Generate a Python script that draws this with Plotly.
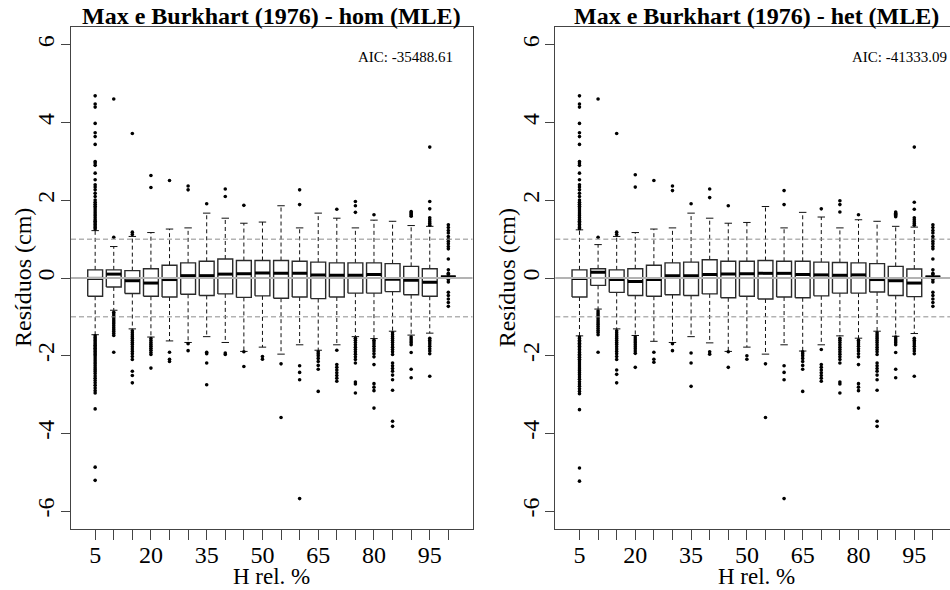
import plotly.graph_objects as go

W, H = 950, 590
FONT = "Liberation Serif, Times New Roman, Times, serif"

categories = [5, 10, 15, 20, 25, 30, 35, 40, 45, 50, 55, 60, 65, 70, 75, 80, 85, 90, 95, 100]
tick_labels = ["5", "", "", "20", "", "", "35", "", "", "50", "", "", "65", "", "", "80", "", "", "95", ""]
y_ticks = [-6, -4, -2, 0, 2, 4, 6]

titles = ["Max e Burkhart (1976) - hom (MLE)", "Max e Burkhart (1976) - het (MLE)"]
aic_labels = ["AIC: -35488.61", "AIC: -41333.09"]
x_title = "H rel. %"
y_title = "Resíduos (cm)"

# ---- hom (MLE) ----
hom_q1 = [-0.47, -0.23, -0.40, -0.47, -0.49, -0.42, -0.45, -0.41, -0.50, -0.46,
          -0.52, -0.49, -0.53, -0.49, -0.39, -0.39, -0.35, -0.43, -0.47, 0.03]
hom_med = [-0.01, 0.10, -0.07, -0.13, -0.04, 0.06, 0.06, 0.10, 0.11, 0.13,
           0.12, 0.12, 0.08, 0.07, 0.07, 0.09, -0.03, -0.06, -0.11, 0.03]
hom_q3 = [0.21, 0.21, 0.19, 0.24, 0.33, 0.39, 0.43, 0.49, 0.45, 0.45,
          0.45, 0.43, 0.41, 0.39, 0.39, 0.39, 0.37, 0.30, 0.24, 0.03]
hom_lo = [-1.46, -0.83, -1.31, -1.52, -1.62, -1.66, -1.51, -1.66, -1.89, -1.78,
          -1.96, -1.72, -1.86, -1.72, -1.51, -1.56, -1.37, -1.47, -1.42, 0.03]
hom_hi = [1.22, 0.81, 1.07, 1.17, 1.26, 1.29, 1.67, 1.54, 1.41, 1.44,
          1.86, 1.29, 1.67, 1.54, 1.29, 1.49, 1.46, 1.35, 1.33, 0.03]
hom_out = [
    [4.69, 4.48, 4.40, 3.98, 3.74, 3.64, 3.44, 3.00, 2.96, 2.90, 2.70, 2.53, 2.40, 2.34, 2.27,
     2.18, 2.10, 2.01, 1.95, 1.90, 1.85, 1.80, 1.75, 1.70, 1.65, 1.60, 1.55, 1.50, 1.46, 1.42,
     1.38, 1.34, 1.30, 1.26,
     -1.49, -1.53, -1.57, -1.61, -1.65, -1.69, -1.73, -1.77, -1.81, -1.85, -1.89, -1.93, -1.97,
     -2.01, -2.06, -2.11, -2.16, -2.21, -2.26, -2.31, -2.36, -2.41, -2.46, -2.52, -2.58, -2.64,
     -2.70, -2.76, -2.83, -2.90, -2.96, -3.37, -4.87, -5.21],
    [4.61, 1.05, -0.88, -0.93, -0.98, -1.03, -1.08, -1.13, -1.18, -1.23, -1.28, -1.33, -1.38,
     -1.43, -1.48, -1.91],
    [3.72, 1.18, 1.12, -1.36, -1.41, -1.46, -1.51, -1.56, -1.61, -1.66, -1.71, -1.77, -1.83,
     -1.89, -1.95, -2.02, -2.10, -2.40, -2.51, -2.70],
    [2.64, 2.33, -1.56, -1.61, -1.66, -1.71, -1.76, -1.81, -1.86, -1.92, -1.97, -2.32],
    [2.51, -1.91, -2.09, -2.15],
    [2.37, 2.27, -1.69, -1.87],
    [1.91, -1.91, -1.95, -2.19, -2.75],
    [2.29, 2.10, -1.93, -1.97],
    [1.87, -1.90, -2.28],
    [-2.02, -2.09],
    [-2.21, -3.59],
    [2.27, 1.89, -2.26, -2.43, -2.62, -5.68],
    [-1.90, -1.95, -2.00, -2.07, -2.15, -2.25, -2.35, -2.92],
    [1.77, -1.86, -2.23, -2.30, -2.37, -2.44, -2.51, -2.58, -2.66],
    [1.97, 1.86, 1.69, -1.55, -1.60, -1.66, -1.72, -1.78, -1.84, -1.90, -1.96, -2.03, -2.10,
     -2.19, -2.68, -2.73, -2.96],
    [1.63, -1.60, -1.65, -1.70, -1.76, -1.82, -1.88, -1.95, -2.03, -2.23, -2.72, -2.81, -2.90, -3.35],
    [-1.41, -1.46, -1.51, -1.56, -1.61, -1.66, -1.72, -1.78, -1.84, -1.90, -1.97, -2.19, -2.26,
     -2.33, -2.40, -2.50, -2.62, -2.89, -3.69, -3.82],
    [1.71, 1.68, 1.65, 1.62, 1.59, -1.52, -1.57, -1.62, -1.67, -1.72, -1.92, -2.35, -2.57],
    [3.37, 1.97, 1.78, 1.55, 1.50, 1.45, 1.40, 1.36, -1.55, -1.60, -1.65, -1.70, -1.76, -1.82,
     -1.88, -1.95, -2.53],
    [1.37, 1.30, 1.22, 1.16, 1.07, 1.00, 0.94, 0.88, 0.81, 0.75, 0.49, 0.21, 0.12, 0.09, -0.04,
     -0.10, -0.37, -0.45, -0.54, -0.63, -0.73],
]

# ---- het (MLE) ----
het_q1 = [-0.49, -0.19, -0.37, -0.45, -0.47, -0.43, -0.45, -0.41, -0.51, -0.47,
          -0.54, -0.49, -0.51, -0.46, -0.39, -0.39, -0.36, -0.45, -0.48, 0.03]
het_med = [-0.01, 0.15, -0.04, -0.09, -0.04, 0.06, 0.06, 0.09, 0.10, 0.11,
           0.12, 0.12, 0.09, 0.08, 0.07, 0.08, -0.04, -0.07, -0.13, 0.03]
het_q3 = [0.21, 0.24, 0.21, 0.24, 0.33, 0.39, 0.41, 0.47, 0.43, 0.43,
          0.45, 0.43, 0.43, 0.41, 0.40, 0.39, 0.37, 0.30, 0.23, 0.03]
het_lo = [-1.49, -0.80, -1.31, -1.48, -1.63, -1.66, -1.51, -1.67, -1.89, -1.78,
          -1.96, -1.72, -1.88, -1.72, -1.49, -1.55, -1.37, -1.50, -1.43, 0.03]
het_hi = [1.24, 0.86, 1.07, 1.17, 1.26, 1.29, 1.67, 1.54, 1.41, 1.43,
          1.84, 1.29, 1.69, 1.57, 1.29, 1.50, 1.46, 1.33, 1.31, 0.03]
het_out = [
    [4.69, 4.48, 4.40, 3.98, 3.74, 3.64, 3.44, 3.00, 2.96, 2.90, 2.70, 2.53, 2.40, 2.34, 2.27,
     2.18, 2.10, 2.01, 1.95, 1.90, 1.85, 1.80, 1.75, 1.70, 1.65, 1.60, 1.55, 1.50, 1.46, 1.42,
     1.38, 1.34, 1.30, 1.27,
     -1.52, -1.56, -1.60, -1.64, -1.68, -1.72, -1.76, -1.80, -1.84, -1.88, -1.92, -1.96, -2.00,
     -2.04, -2.09, -2.14, -2.19, -2.24, -2.29, -2.34, -2.39, -2.44, -2.49, -2.55, -2.61, -2.67,
     -2.73, -2.79, -2.85, -2.92, -2.98, -3.39, -4.89, -5.23],
    [4.61, 1.05, -0.85, -0.90, -0.95, -1.00, -1.05, -1.10, -1.15, -1.20, -1.25, -1.30, -1.35,
     -1.40, -1.46, -1.91],
    [3.72, 1.18, 1.12, -1.36, -1.41, -1.46, -1.51, -1.56, -1.61, -1.66, -1.71, -1.77, -1.83,
     -1.89, -1.95, -2.02, -2.10, -2.37, -2.48, -2.70],
    [2.66, 2.34, -1.52, -1.57, -1.62, -1.67, -1.72, -1.77, -1.82, -1.88, -1.94, -2.30],
    [2.51, -1.91, -2.09, -2.17],
    [2.37, 2.25, -1.69, -1.87],
    [1.91, -1.93, -2.19, -2.79],
    [2.29, 2.07, -1.90, -1.96],
    [1.86, -1.90, -2.30],
    [-2.00, -2.09],
    [-2.21, -3.59],
    [2.25, 1.89, -2.26, -2.43, -2.62, -5.68],
    [-1.90, -1.95, -2.00, -2.07, -2.15, -2.25, -2.35, -2.92],
    [1.78, -1.84, -2.23, -2.30, -2.37, -2.44, -2.51, -2.58, -2.66],
    [1.99, 1.89, 1.70, -1.55, -1.60, -1.66, -1.72, -1.78, -1.84, -1.90, -1.96, -2.03, -2.10,
     -2.19, -2.68, -2.73, -2.96],
    [1.63, -1.60, -1.65, -1.70, -1.76, -1.82, -1.88, -1.95, -2.03, -2.23, -2.72, -2.81, -2.90, -3.35],
    [-1.41, -1.46, -1.51, -1.56, -1.61, -1.66, -1.72, -1.78, -1.84, -1.90, -1.97, -2.19, -2.26,
     -2.33, -2.40, -2.50, -2.62, -2.89, -3.69, -3.82],
    [1.70, 1.67, 1.64, 1.61, 1.58, -1.52, -1.57, -1.62, -1.67, -1.72, -1.92, -2.35, -2.57],
    [3.37, 1.95, 1.77, 1.55, 1.50, 1.45, 1.40, 1.36, -1.55, -1.60, -1.65, -1.70, -1.76, -1.82,
     -1.88, -1.95, -2.53],
    [1.37, 1.30, 1.22, 1.16, 1.07, 1.00, 0.94, 0.88, 0.81, 0.75, 0.49, 0.21, 0.12, 0.09, -0.04,
     -0.10, -0.37, -0.45, -0.54, -0.63, -0.73],
]

panels = [
    dict(q1=hom_q1, med=hom_med, q3=hom_q3, lo=hom_lo, hi=hom_hi, out=hom_out),
    dict(q1=het_q1, med=het_med, q3=het_q3, lo=het_lo, hi=het_hi, out=het_out),
]

# layout geometry in pixels
plot_x = [(71.0, 472.5), (555.3, 950.0)]
x_ranges = [[-0.3, 21.3], [-0.3, 20.92]]
plot_top, plot_bot = 26.7, 529.3
Y_RANGE = [-6.47, 6.47]


def px(v):
    return v / W


def py(v):
    return 1 - v / H


BOXW = 0.4
STAPLE = 0.2

fig = go.Figure()
for p, d in enumerate(panels):
    xa = "x" if p == 0 else "x2"
    ya = "y" if p == 0 else "y2"
    bx, by, mx, my, wx, wy, sx, sy, ox, oy = [], [], [], [], [], [], [], [], [], []
    for i in range(len(categories)):
        c = i + 1
        q1, md, q3, lo, hi = d["q1"][i], d["med"][i], d["q3"][i], d["lo"][i], d["hi"][i]
        bx += [c - BOXW, c + BOXW, c + BOXW, c - BOXW, c - BOXW, None]
        by += [q1, q1, q3, q3, q1, None]
        mx += [c - BOXW, c + BOXW, None]
        my += [md, md, None]
        if hi > q3:
            wx += [c, c, None]
            wy += [q3, hi, None]
        if lo < q1:
            wx += [c, c, None]
            wy += [q1, lo, None]
        sx += [c - STAPLE, c + STAPLE, None, c - STAPLE, c + STAPLE, None]
        sy += [hi, hi, None, lo, lo, None]
        for v in d["out"][i]:
            ox.append(c)
            oy.append(v)
    fig.add_trace(go.Scatter(x=wx, y=wy, mode="lines", xaxis=xa, yaxis=ya,
                             line=dict(color="#111", width=1, dash="4px,3px"), hoverinfo="skip"))
    fig.add_trace(go.Scatter(x=sx, y=sy, mode="lines", xaxis=xa, yaxis=ya,
                             line=dict(color="#111", width=1), hoverinfo="skip"))
    fig.add_trace(go.Scatter(x=bx, y=by, mode="lines", xaxis=xa, yaxis=ya,
                             line=dict(color="#2a2a2a", width=1.4), hoverinfo="skip"))
    fig.add_trace(go.Scatter(x=mx, y=my, mode="lines", xaxis=xa, yaxis=ya,
                             line=dict(color="#000", width=3), hoverinfo="skip"))
    fig.add_trace(go.Scatter(x=ox, y=oy, mode="markers", xaxis=xa, yaxis=ya,
                             marker=dict(color="#000", size=3.6, line=dict(width=0)),
                             hoverinfo="skip"))

    # reference lines
    dref = ("x domain" if p == 0 else "x2 domain")
    for yv, col, wdt, dash in [(1, "#8c8c8c", 1, "5px,3px"), (-1, "#8c8c8c", 1, "5px,3px"),
                               (0, "#b3b3b3", 2, "solid")]:
        fig.add_shape(type="line", xref=dref, yref=ya, x0=0, x1=1, y0=yv, y1=yv,
                      line=dict(color=col, width=wdt, dash=dash), layer="above")

    x0p, x1p = plot_x[p]
    cx = (x0p + (x0p + 401.5)) / 2
    # title
    fig.add_annotation(text="<b>" + titles[p] + "</b>", xref="paper", yref="paper",
                       x=px(cx), y=py(16.5), xanchor="center", yanchor="middle",
                       showarrow=False, font=dict(family=FONT, size=24, color="#000"))
    # AIC
    aic_right = 455 if p == 0 else 949
    fig.add_annotation(text=aic_labels[p], xref="paper", yref="paper",
                       x=px(aic_right), y=py(57), xanchor="right", yanchor="middle",
                       showarrow=False, font=dict(family=FONT, size=15, color="#000"))
    # axis titles
    fig.add_annotation(text=x_title, xref="paper", yref="paper",
                       x=px(cx), y=py(576), xanchor="center", yanchor="middle",
                       showarrow=False, font=dict(family=FONT, size=23, color="#000"))
    fig.add_annotation(text=y_title, xref="paper", yref="paper",
                       x=px(x0p - 48), y=py(278), xanchor="center", yanchor="middle",
                       textangle=-90, showarrow=False,
                       font=dict(family=FONT, size=24, color="#000"))

common_x = dict(tickvals=list(range(1, len(categories) + 1)), ticktext=tick_labels,
                ticks="outside", ticklen=10, tickwidth=1, tickcolor="#444",
                showline=True, linecolor="#444", linewidth=1, mirror=True,
                showgrid=False, zeroline=False, ticklabelstandoff=-6,
                tickfont=dict(family=FONT, size=24, color="#000"))
common_y = dict(tickvals=y_ticks, ticktext=[str(v) for v in y_ticks],
                ticks="outside", ticklen=9, tickwidth=1, tickcolor="#444",
                showline=True, linecolor="#444", linewidth=1,
                showgrid=False, zeroline=False, range=Y_RANGE, tickangle=-90,
                ticklabelstandoff=-3,
                domain=[py(plot_bot), py(plot_top)],
                tickfont=dict(family=FONT, size=24, color="#000"))

fig.update_layout(
    width=W, height=H, margin=dict(l=0, r=0, t=0, b=0),
    paper_bgcolor="white", plot_bgcolor="white", showlegend=False,
    font=dict(family=FONT, color="#000"),
    xaxis=dict(common_x, domain=[px(plot_x[0][0]), px(plot_x[0][1])], range=x_ranges[0], anchor="y"),
    yaxis=dict(common_y, anchor="x", mirror=True),
    xaxis2=dict(common_x, domain=[px(plot_x[1][0]), px(plot_x[1][1])], range=x_ranges[1], anchor="y2"),
    yaxis2=dict(common_y, anchor="x2", mirror=False),
)

fig.write_html("out.html")
